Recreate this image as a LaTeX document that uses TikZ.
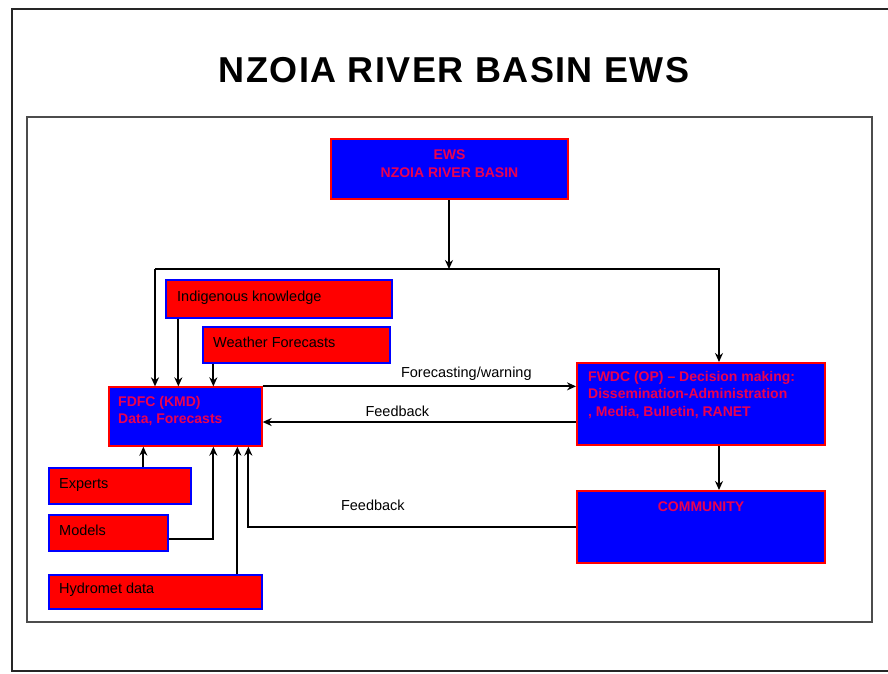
\documentclass[tikz,border=0pt]{standalone}
\usepackage{fontspec}
\setmainfont{Liberation Sans}
\newfontfamily\titlefont[LetterSpace=4]{Liberation Sans}
\usepackage{tikz}
\usetikzlibrary{arrows.meta}
\definecolor{boxred}{RGB}{255,0,0}
\definecolor{boxblue}{RGB}{0,0,255}
\definecolor{labelred}{RGB}{235,0,80}
\tikzstyle{bluebox} = [draw=boxred, fill=boxblue, line width=2pt, rectangle, inner sep=0pt]
\tikzstyle{redbox} = [draw=boxblue, fill=boxred, line width=1.3pt, rectangle, inner sep=0pt]
\tikzstyle{bluetext} = [inner sep=0pt, align=left, text=labelred, font=\fontsize{14}{17.5}\selectfont\bfseries]
\tikzstyle{redtext} = [inner sep=0pt, text=black, anchor=base west]
\tikzstyle{flow} = [-{Stealth[length=9pt, width=8pt]}, line width=2.2pt, black]

\begin{document}
\begin{tikzpicture}[x=1pt, y=-1pt, font=\fontsize{14.5}{17.5}\selectfont]
	\useasboundingbox (0,0) rectangle (888,673);
	% frames
	\draw [line width=2.5pt, black!85] (888,9) -- (12,9) -- (12,671) -- (888,671);
	\draw [line width=1.2pt, black!70] (27,117) rectangle (872,622);
	\node (title) at (454,70) {\titlefont\fontsize{36}{40}\selectfont\bfseries NZOIA RIVER BASIN EWS};

	% boxes
	\node [bluebox, minimum width=237pt, minimum height=60pt] (ews) at (449.5,169) {};
	\node [bluetext, align=center, anchor=north] (ewstext) at (449.5,150) {EWS\\NZOIA RIVER BASIN};
	\node [redbox, minimum width=226pt, minimum height=38pt] (indigenous) at (279,299) {};
	\node [redtext] (indigenoustext) at (177,301) {Indigenous knowledge};
	\node [redbox, minimum width=187pt, minimum height=36pt] (weather) at (296.5,345) {};
	\node [redtext] (weathertext) at (213,347) {Weather Forecasts};
	\node [bluebox, line width=1.3pt, minimum width=153pt, minimum height=59pt] (fdfc) at (185.5,416.5) {};
	\node [bluetext, anchor=north west] (fdfctext) at (118,396) {FDFC (KMD)\\Data, Forecasts};
	\node [bluebox, minimum width=248pt, minimum height=82pt] (fwdc) at (701,404) {};
	\node [bluetext, anchor=north west] (fwdctext) at (588,371) {FWDC (OP) -- Decision making:\\Dissemination-Administration\\, Media, Bulletin, RANET};
	\node [bluebox, minimum width=248pt, minimum height=72pt] (community) at (701,527) {};
	\node [bluetext, anchor=base] (communitytext) at (701,511) {COMMUNITY};
	\node [redbox, minimum width=142pt, minimum height=36pt] (experts) at (120,486) {};
	\node [redtext] (expertstext) at (59,488) {Experts};
	\node [redbox, minimum width=119pt, minimum height=36pt] (models) at (108.5,533) {};
	\node [redtext] (modelstext) at (59,535) {Models};
	\node [redbox, minimum width=213pt, minimum height=34pt] (hydromet) at (155.5,592) {};
	\node [redtext] (hydromettext) at (59,593) {Hydromet data};

	% connectors
	\coordinate (split) at (449,269);
	\coordinate (leftturn) at (155,269);
	\coordinate (rightturn) at (719,269);
	\draw [flow] (ews.south -| split) -- (split);
	\draw [flow] (leftturn) -- (leftturn |- fdfc.north);
	\draw [flow] (leftturn) -- (rightturn) -- (rightturn |- fwdc.north);
	\draw [flow] ([xshift=13pt]indigenous.south west) -- ([xshift=70pt]fdfc.north west);
	\draw [flow] ([xshift=11pt]weather.south west) -- ([xshift=105pt]fdfc.north west);
	\draw [flow] (fdfc.north east) -- (fdfc.north east -| fwdc.west) node [pos=0.65, above=1pt] {Forecasting/warning};
	\draw [flow] ([yshift=-18pt]fwdc.west) -- ([yshift=-18pt]fwdc.west -| fdfc.east) node [pos=0.57, above=1pt] {Feedback};
	\draw [flow] ([xshift=18pt]fwdc.south) -- ([xshift=18pt]community.north);
	\draw [flow] (community.west) -| ([xshift=140pt]fdfc.south west) node [pos=0.31, above=12pt] {Feedback};
	\draw [flow] ([xshift=95pt]experts.north west) -- ([xshift=35pt]fdfc.south west);
	\draw [flow] ([yshift=-6pt]models.east) -| ([xshift=105pt]fdfc.south west);
	\draw [flow] ([xshift=189pt]hydromet.north west) -- ([xshift=129pt]fdfc.south west);
\end{tikzpicture}
\end{document}
